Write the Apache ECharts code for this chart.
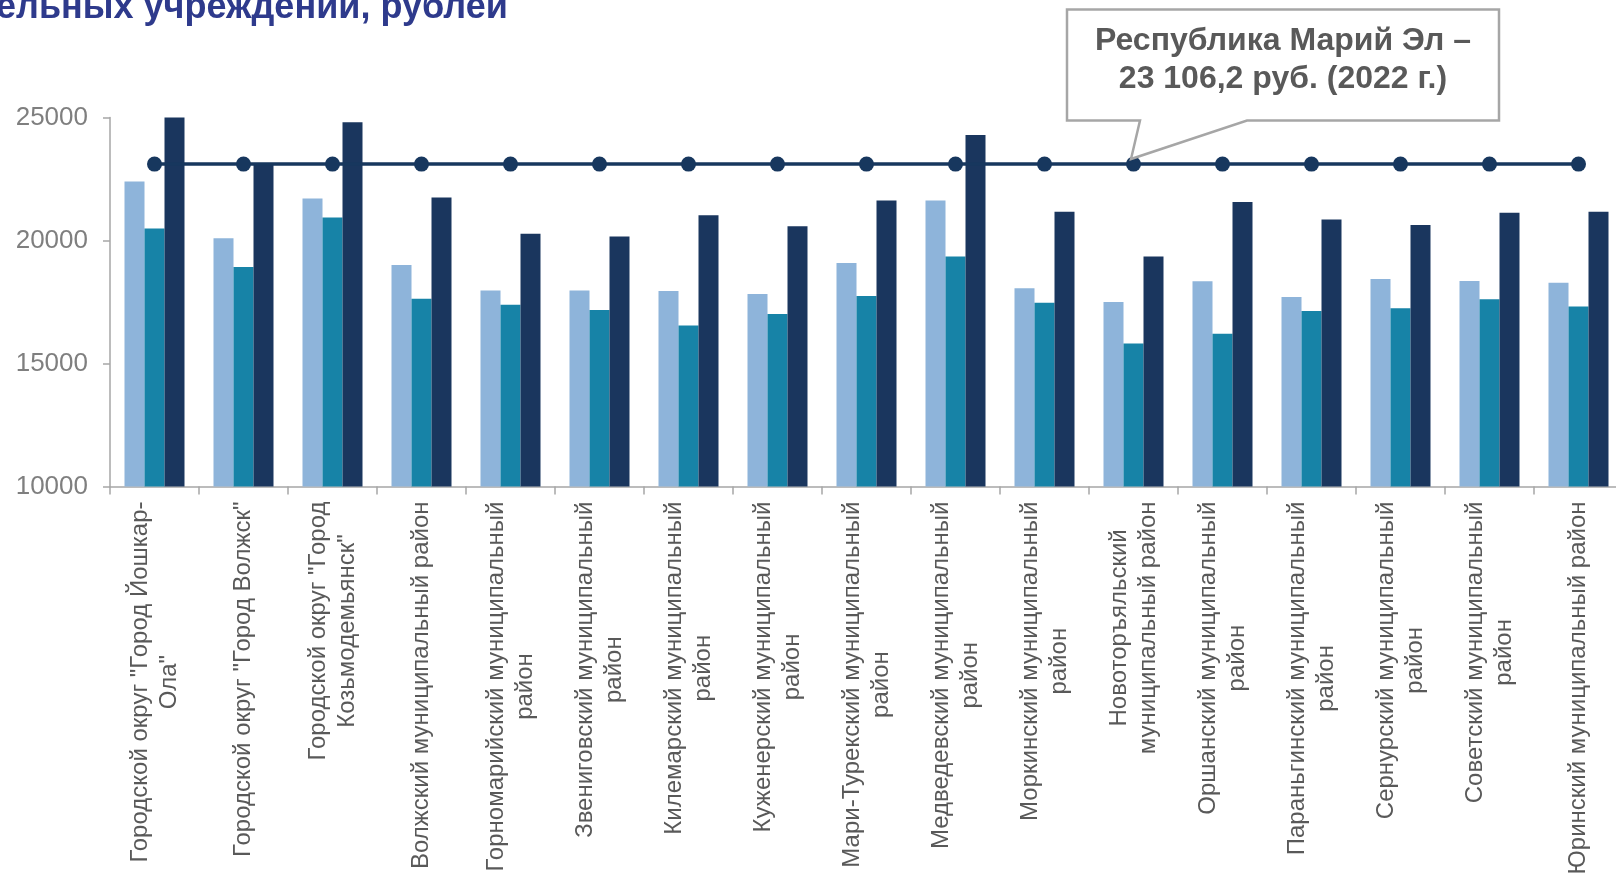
<!DOCTYPE html>
<html>
<head>
<meta charset="utf-8">
<script src="https://cdn.jsdelivr.net/npm/echarts@6/dist/echarts.min.js"></script>
<style>
html,body{margin:0;padding:0;background:#fff;}
#chart{width:1616px;height:873px;}
</style>
</head>
<body>
<div id="chart"></div>
<script>
const categories = [
  'Городской округ "Город Йошкар-\nОла"',
  'Городской округ "Город Волжск"',
  'Городской округ "Город\nКозьмодемьянск"',
  'Волжский муниципальный район',
  'Горномарийский муниципальный\nрайон',
  'Звениговский муниципальный\nрайон',
  'Килемарский муниципальный\nрайон',
  'Куженерский муниципальный\nрайон',
  'Мари-Турекский муниципальный\nрайон',
  'Медведевский муниципальный\nрайон',
  'Моркинский муниципальный\nрайон',
  'Новоторъяльский\nмуниципальный район',
  'Оршанский муниципальный\nрайон',
  'Параньгинский муниципальный\nрайон',
  'Сернурский муниципальный\nрайон',
  'Советский муниципальный\nрайон',
  'Юринский муниципальный район'
];
const seriesLight = [22400, 20090, 21710, 19000, 17970, 17970, 17950, 17830, 19090, 21630, 18060, 17500, 18340, 17700, 18430, 18350, 18280];
const seriesMid   = [20490, 18920, 20930, 17630, 17390, 17170, 16540, 17010, 17740, 19350, 17470, 15810, 16210, 17130, 17250, 17610, 17320];
const seriesDark  = [25000, 23150, 24810, 21750, 20270, 20160, 21030, 20580, 21630, 24290, 21170, 19350, 21570, 20850, 20630, 21130, 21170];
const regionValue = 23106.2;
const regionLine = categories.map(() => regionValue);
const yTicks = { min: 10000, max: 25000, interval: 5000 };
const titleText = 'ельных учреждений, рублей';
const calloutLines = ['Республика Марий Эл –', '23 106,2 руб. (2022 г.)'];

const chart = echarts.init(document.getElementById('chart'), null, { renderer: 'canvas' });
const FONT = '"Liberation Sans", Arial, sans-serif';

const barCommon = { type: 'bar', barWidth: 20, barGap: '0%', barCategoryGap: '33%' };

chart.setOption({
  animation: false,
  backgroundColor: '#ffffff',
  textStyle: { fontFamily: FONT },
  grid: { left: 110, top: 117.5, width: 1513, height: 369, containLabel: false, outerBoundsMode: 'none' },
  xAxis: {
    type: 'category',
    data: categories,
    axisLine: { lineStyle: { color: '#A6A6A6', width: 1.5 } },
    axisTick: { show: true, length: 8, lineStyle: { color: '#A6A6A6', width: 1.5 } },
    axisLabel: {
      interval: 0,
      rotate: 90,
      margin: 15,
      formatter: function (v) { return v.split('\n').map(l => '{c|' + l + '}').join('\n'); },
      rich: { c: { align: 'center', fontSize: 24, lineHeight: 29, color: '#595959', fontFamily: FONT } }
    }
  },
  yAxis: {
    type: 'value',
    min: yTicks.min, max: yTicks.max, interval: yTicks.interval,
    splitLine: { show: false },
    axisLine: { show: true, lineStyle: { color: '#A6A6A6', width: 1.5 } },
    axisTick: { show: true, length: 7, lineStyle: { color: '#A6A6A6', width: 1.5 } },
    axisLabel: { fontSize: 26, color: '#7F7F7F', margin: 22, fontFamily: FONT, formatter: function (v) { return String(v); } }
  },
  series: [
    Object.assign({ name: 'light', data: seriesLight, itemStyle: { color: '#8EB4DA' } }, barCommon),
    Object.assign({ name: 'mid', data: seriesMid, itemStyle: { color: '#1783A7' } }, barCommon),
    Object.assign({ name: 'dark', data: seriesDark, itemStyle: { color: '#1A365E' } }, barCommon),
    {
      name: 'Республика Марий Эл', type: 'line', data: regionLine,
      symbol: 'circle', symbolSize: 15,
      lineStyle: { color: '#17375E', width: 3.5 },
      itemStyle: { color: '#17375E' },
      z: 5
    }
  ],
  graphic: [
    {
      type: 'text', left: -4, top: -10, z: 10,
      style: { text: titleText, fontSize: 36, fontWeight: 'bold', fill: '#2E3A8C', fontFamily: FONT }
    },
    {
      type: 'polygon', z: 20,
      shape: { points: [[1067, 9.5], [1499, 9.5], [1499, 120.5], [1247, 120.5], [1131, 159], [1140, 120.5], [1067, 120.5]] },
      style: { fill: '#ffffff', stroke: '#A6A6A6', lineWidth: 2.5 }
    },
    {
      type: 'text', x: 1283, y: 41, z: 21,
      style: { text: calloutLines[0], fontSize: 32, fontWeight: 'bold', fill: '#595959', align: 'center', verticalAlign: 'middle', fontFamily: FONT }
    },
    {
      type: 'text', x: 1283, y: 79, z: 21,
      style: { text: calloutLines[1], fontSize: 32, fontWeight: 'bold', fill: '#595959', align: 'center', verticalAlign: 'middle', fontFamily: FONT }
    }
  ]
});
</script>
</body>
</html>
